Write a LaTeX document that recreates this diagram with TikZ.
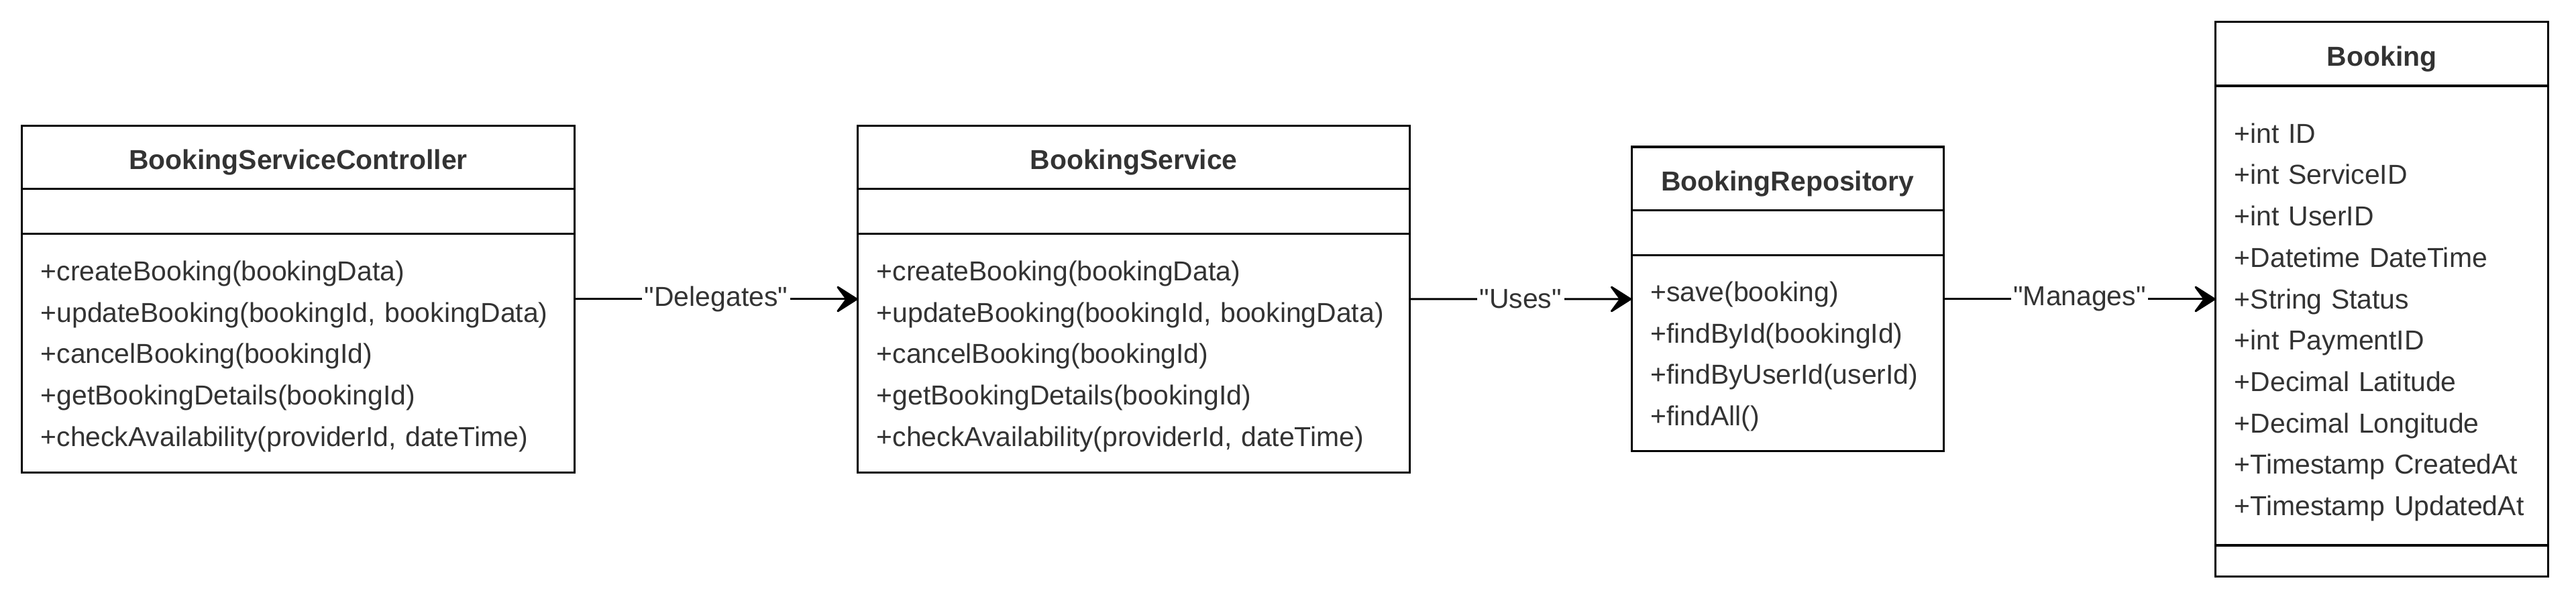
\documentclass[tikz,border=0pt]{standalone}
\usepackage{fontspec}
\setmainfont{Liberation Sans}[Ligatures=TeXOff]
\usepackage{xcolor}
\usepackage{tikz}
\usetikzlibrary{positioning,fit,arrows.meta}
\definecolor{txtgray}{HTML}{333333}

\begin{document}
\begin{tikzpicture}[x=1pt, y=1pt,
    every node/.style={outer sep=0pt, text=txtgray},
    classhead/.style={draw=black, line width=1.3pt, anchor=north west, inner sep=0pt,
        text height=15pt, text depth=0pt, font=\fontsize{16.7}{25.2}\selectfont\bfseries},
    classpart/.style={draw=black, line width=1.3pt, below=0pt of #1, align=left,
        inner xsep=11.5pt, inner ysep=0pt, font=\fontsize{16.7}{25.2}\selectfont},
    assoc/.style={line width=1.2pt, -{Stealth[length=15pt, width=19pt, inset=7pt, round]}},
    edgelabel/.style={fill=white, inner sep=1.5pt, font=\fontsize{16.7}{20}\selectfont}]
    \useasboundingbox (0,0) rectangle (1568,365.5);

    % Controller
    \node[classhead, minimum width=336.4pt, minimum height=38.6pt] (ctrlH) at (13.3,289) {BookingServiceController};
    \node[classpart=ctrlH, text width=313.4pt, minimum height=27.1pt] (ctrlA) {};
    \node[classpart=ctrlA, text width=313.4pt, minimum height=145.5pt] (ctrlM)
        {\rule{0pt}{16.2pt}+createBooking(bookingData)\\+updateBooking(bookingId, bookingData)\\+cancelBooking(bookingId)\\+getBookingDetails(bookingId)\\+checkAvailability(providerId, dateTime)};
    \node[fit=(ctrlH)(ctrlM), inner sep=0pt] (ctrl) {};

    % Service
    \node[classhead, minimum width=336pt, minimum height=38.6pt] (svcH) at (522.1,289) {BookingService};
    \node[classpart=svcH, text width=313pt, minimum height=27.1pt] (svcA) {};
    \node[classpart=svcA, text width=313pt, minimum height=145.5pt] (svcM)
        {\rule{0pt}{16.2pt}+createBooking(bookingData)\\+updateBooking(bookingId, bookingData)\\+cancelBooking(bookingId)\\+getBookingDetails(bookingId)\\+checkAvailability(providerId, dateTime)};
    \node[fit=(svcH)(svcM), inner sep=0pt] (svc) {};

    % Repository
    \node[classhead, minimum width=190pt, minimum height=38.5pt] (repoH) at (993.1,276.05) {BookingRepository};
    \node[classpart=repoH, text width=167pt, minimum height=27.3pt] (repoA) {};
    \node[classpart=repoA, text width=167pt, minimum height=119.5pt] (repoM)
        {\rule{0pt}{16.2pt}+save(booking)\\+findById(bookingId)\\+findByUserId(userId)\\+findAll()};
    \node[fit=(repoH)(repoM), inner sep=0pt] (repo) {};

    % Entity
    \node[classhead, minimum width=202.4pt, minimum height=39pt] (bookH) at (1348.6,352.25) {Booking};
    \node[classpart=bookH, text width=179.4pt, minimum height=279.7pt] (bookA)
        {\rule{0pt}{20.2pt}+int ID\\+int ServiceID\\+int UserID\\+Datetime DateTime\\+String Status\\+int PaymentID\\+Decimal Latitude\\+Decimal Longitude\\+Timestamp CreatedAt\\+Timestamp UpdatedAt};
    \node[classpart=bookA, text width=179.4pt, minimum height=19pt] (bookM) {};
    \node[fit=(bookH)(bookM), inner sep=0pt] (book) {};

    % Associations
    \draw[assoc] (ctrl) -- node[edgelabel] {"Delegates"} (svc);
    \draw[assoc] (svc) -- node[edgelabel] {"Uses"} (repo);
    \draw[assoc] (repo) -- node[edgelabel] {"Manages"} (book);
\end{tikzpicture}
\end{document}
